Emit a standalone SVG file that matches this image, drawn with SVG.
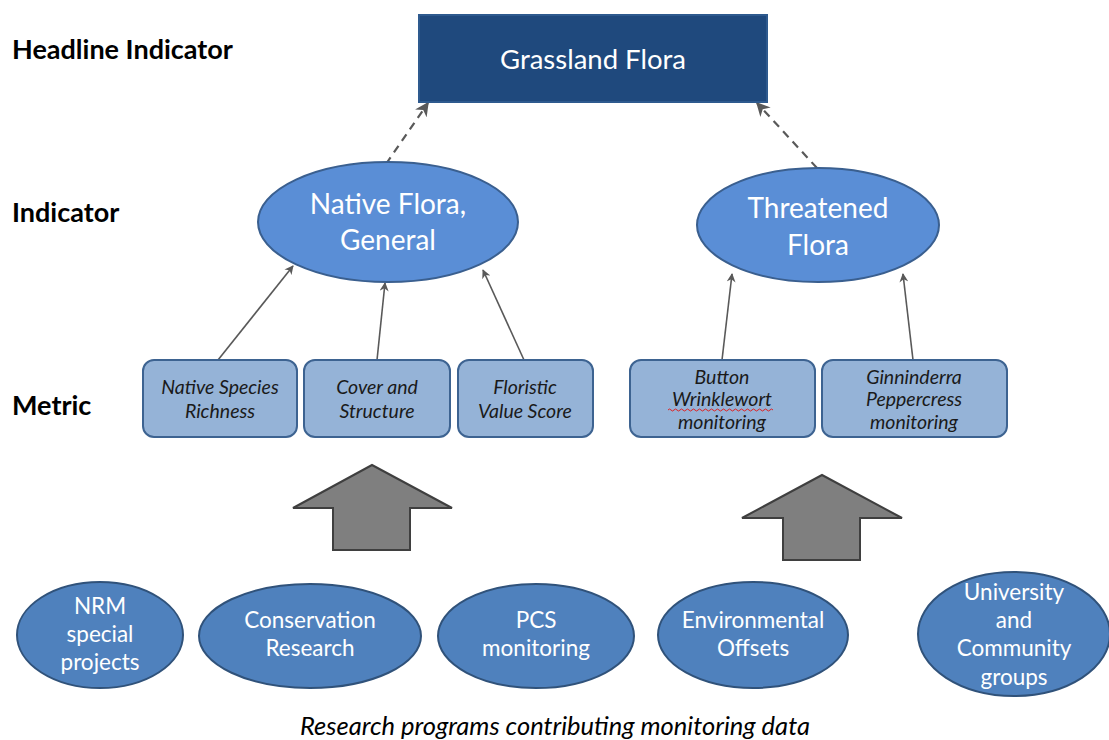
<svg xmlns="http://www.w3.org/2000/svg" width="1109" height="740" viewBox="0 0 1109 740">
  <style>
    .lvl { font-family: Lato, "Open Sans", sans-serif; font-weight: bold; font-size: 27px; fill: #000; }
    .ind { fill: #5A8ED6; stroke: #3A5F8F; stroke-width: 2; }
    .src { fill: #4F81BD; stroke: #30527A; stroke-width: 2; }
    .met { fill: #95B3D7; stroke: #3D6391; stroke-width: 2; }
    .wt { font-family: Lato, "Open Sans", sans-serif; fill: #fff; text-anchor: middle; }
    .it { font-family: Lato, "Open Sans", sans-serif; font-style: italic; font-size: 19.5px; fill: #1a1a1a; text-anchor: middle; }
    .solid { stroke: #595959; stroke-width: 1.6; fill: none; marker-end: url(#ah); }
    .dash { stroke: #595959; stroke-width: 2.2; fill: none; stroke-dasharray: 8 6; marker-end: url(#ah2); }
    .block { fill: #7F7F7F; stroke: #3F3F3F; stroke-width: 2; }
  </style>
  <defs>
    <marker id="ah" viewBox="0 0 10 10" refX="9" refY="5" markerWidth="9" markerHeight="9" markerUnits="userSpaceOnUse" orient="auto">
      <path d="M0,0 L10,5 L0,10 L3,5 Z" fill="#595959"/>
    </marker>
    <marker id="ah2" viewBox="0 0 10 10" refX="9" refY="5" markerWidth="14" markerHeight="14" markerUnits="userSpaceOnUse" orient="auto">
      <path d="M0,0 L10,5 L0,10 L3,5 Z" fill="#595959"/>
    </marker>
  </defs>

  <rect width="1109" height="740" fill="#fff"/>

  <!-- level labels -->
  <g id="level-labels">
    <text class="lvl" x="12" y="59">Headline Indicator</text>
    <text class="lvl" x="12" y="222">Indicator</text>
    <text class="lvl" x="12" y="415">Metric</text>
  </g>

  <!-- connectors -->
  <g id="connectors">
    <line class="dash" x1="386" y1="164" x2="428" y2="103"/>
    <line class="dash" x1="817" y1="168" x2="757" y2="103"/>
    <line class="solid" x1="218" y1="360" x2="293" y2="266"/>
    <line class="solid" x1="377" y1="360" x2="385" y2="283"/>
    <line class="solid" x1="524" y1="360" x2="483" y2="270"/>
    <line class="solid" x1="722" y1="360" x2="732" y2="274"/>
    <line class="solid" x1="913" y1="360" x2="903" y2="274"/>
  </g>

  <!-- headline -->
  <g id="grassland-flora">
    <rect x="419" y="15" width="348" height="87" fill="#1F497D" stroke="#2E5A8E" stroke-width="2"/>
    <text class="wt" x="593" y="69" font-size="27.5">Grassland Flora</text>
  </g>

  <!-- indicators -->
  <g id="native-flora-general">
    <ellipse class="ind" cx="388" cy="222" rx="130" ry="60"/>
    <text class="wt" x="388" y="214" font-size="28">Native Flora,</text>
    <text class="wt" x="388" y="250" font-size="28">General</text>
  </g>
  <g id="threatened-flora">
    <ellipse class="ind" cx="818" cy="225" rx="121" ry="57"/>
    <text class="wt" x="818" y="218" font-size="28">Threatened</text>
    <text class="wt" x="818" y="255" font-size="28">Flora</text>
  </g>

  <!-- metrics -->
  <g id="native-species-richness">
    <rect class="met" x="143" y="360" width="154" height="77" rx="11"/>
    <text class="it" x="220" y="394">Native Species</text>
    <text class="it" x="220" y="418">Richness</text>
  </g>
  <g id="cover-and-structure">
    <rect class="met" x="304" y="360" width="146" height="77" rx="11"/>
    <text class="it" x="377" y="394">Cover and</text>
    <text class="it" x="377" y="418">Structure</text>
  </g>
  <g id="floristic-value-score">
    <rect class="met" x="458" y="360" width="135" height="77" rx="11"/>
    <text class="it" x="525" y="394">Floristic</text>
    <text class="it" x="525" y="418">Value Score</text>
  </g>
  <g id="button-wrinklewort">
    <rect class="met" x="630" y="360" width="185" height="77" rx="11"/>
    <text class="it" x="722" y="384">Button</text>
    <text class="it" x="722" y="406">Wrinklewort</text>
    <text class="it" x="722" y="429">monitoring</text>
    <path d="M668,410 q1.5,-2 3,0 t3,0 t3,0 t3,0 t3,0 t3,0 t3,0 t3,0 t3,0 t3,0 t3,0 t3,0 t3,0 t3,0 t3,0 t3,0 t3,0 t3,0 t3,0 t3,0 t3,0 t3,0 t3,0 t3,0 t3,0 t3,0 t3,0 t3,0 t3,0 t3,0 t3,0 t3,0 t3,0 t3,0 t3,0" fill="none" stroke="#E02020" stroke-width="1"/>
  </g>
  <g id="ginninderra-peppercress">
    <rect class="met" x="822" y="360" width="185" height="77" rx="11"/>
    <text class="it" x="914" y="384">Ginninderra</text>
    <text class="it" x="914" y="406">Peppercress</text>
    <text class="it" x="914" y="429">monitoring</text>
  </g>

  <!-- block arrows -->
  <g id="flow-left">
    <path class="block" d="M372,465 L452,508 L410,508 L410,550 L333,550 L333,508 L293,508 Z"/>
  </g>
  <g id="flow-right">
    <path class="block" d="M822,475 L902,518 L860,518 L860,560 L783,560 L783,518 L742,518 Z"/>
  </g>

  <!-- contributing programs -->
  <g id="nrm-special-projects">
    <ellipse class="src" cx="100" cy="635" rx="83" ry="53"/>
    <text class="wt" x="100" y="614" font-size="22.5">NRM</text>
    <text class="wt" x="100" y="642" font-size="22.5">special</text>
    <text class="wt" x="100" y="670" font-size="22.5">projects</text>
  </g>
  <g id="conservation-research">
    <ellipse class="src" cx="310" cy="636" rx="111" ry="52"/>
    <text class="wt" x="310" y="628" font-size="22.5">Conservation</text>
    <text class="wt" x="310" y="656" font-size="22.5">Research</text>
  </g>
  <g id="pcs-monitoring">
    <ellipse class="src" cx="536" cy="636" rx="98" ry="52"/>
    <text class="wt" x="536" y="628" font-size="22.5">PCS</text>
    <text class="wt" x="536" y="656" font-size="22.5">monitoring</text>
  </g>
  <g id="environmental-offsets">
    <ellipse class="src" cx="753" cy="635" rx="95" ry="53"/>
    <text class="wt" x="753" y="628" font-size="22.5">Environmental</text>
    <text class="wt" x="753" y="656" font-size="22.5">Offsets</text>
  </g>
  <g id="university-community">
    <ellipse class="src" cx="1014" cy="634" rx="96" ry="62"/>
    <text class="wt" x="1014" y="600" font-size="22.5">University</text>
    <text class="wt" x="1014" y="628" font-size="22.5">and</text>
    <text class="wt" x="1014" y="656" font-size="22.5">Community</text>
    <text class="wt" x="1014" y="685" font-size="22.5">groups</text>
  </g>

  <text x="555" y="735" font-family="Lato, 'Open Sans', sans-serif" font-style="italic" font-size="25.5" text-anchor="middle" fill="#000">Research programs contributing monitoring data</text>
</svg>
